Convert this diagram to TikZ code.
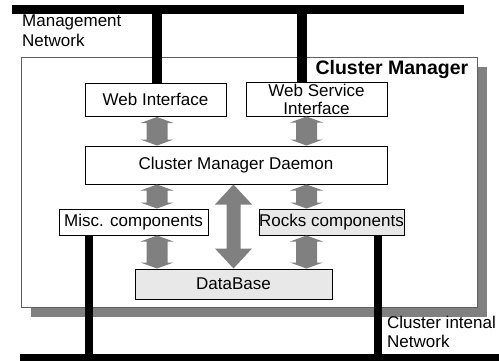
\documentclass[tikz,border=0pt]{standalone}
\usepackage{fontspec}
\setmainfont{Liberation Sans}
\usepackage{xcolor}
\usetikzlibrary{calc}
\usetikzlibrary{shadows}

\definecolor{arrowgray}{RGB}{128,128,128}
\definecolor{shadowgray}{RGB}{128,128,128}
\definecolor{boxgray}{RGB}{232,232,232}
\definecolor{framegray}{RGB}{95,95,95}

% fat grey two-headed arrow between two points
\newcommand{\dblarrow}[5]{%
\coordinate (ta) at (#1);
\coordinate (ba) at (#2);
\fill[arrowgray] (ta) -- ($(ta)+(#4,-#5)$) -- ($(ta)+(#3,-#5)$) -- ($(ba)+(#3,#5)$) -- ($(ba)+(#4,#5)$) -- (ba) -- ($(ba)+(-#4,#5)$) -- ($(ba)+(-#3,#5)$) -- ($(ta)+(-#3,-#5)$) -- ($(ta)+(-#4,-#5)$) -- cycle ;}

\tikzset{
  txt/.style={font=\fontsize{17}{18}\selectfont},
  box/.style={txt, draw, line width=1pt, fill=white, inner sep=0pt},
  greybox/.style={box, fill=boxgray},
  net/.style={line width=9pt},
  frame/.style={draw=framegray, line width=1pt, fill=white, inner sep=0pt,
    drop shadow={shadow xshift=10pt, shadow yshift=-10pt, fill=shadowgray, opacity=1}},
}

\begin{document}
\begin{tikzpicture}[x=1pt,y=1pt]
\useasboundingbox (0,0) rectangle (499,360);

%Cluster Manager frame
\node [frame, minimum width=456pt, minimum height=250pt] (cm) at (249,178) {};
\node [anchor=north east, inner sep=0pt, font=\fontsize{19.5}{20}\selectfont\bfseries] (cmlabel) at ($(cm.north east)+(-9,-4)$) {Cluster Manager};

%Boxes
\node [box, minimum width=141pt, minimum height=33.5pt] (web) at (155.5,260.25) {Web Interface};
\node [box, minimum width=141pt, minimum height=34pt, align=center] (ws) at (316.5,261) {Web Service\\Interface};
\node [box, minimum width=302pt, minimum height=38pt] (daemon) at (236,195) {Cluster Manager Daemon};
\node [box, minimum width=149pt, minimum height=26pt] (misc) at (133.5,138) {Misc. components};
\node [greybox, minimum width=145pt, minimum height=26pt] (rocks) at (331.5,138) {Rocks components};
\node [greybox, minimum width=197pt, minimum height=30pt] (db) at (233.5,76) {DataBase};

%Networks
\coordinate (mgmtL) at (12,350.5);
\coordinate (mgmtR) at (464,350.5);
\coordinate (tap1) at (157,350.5);
\coordinate (tap2) at (302,350.5);
\coordinate (intL) at (20,1.5);
\coordinate (intR) at (510,1.5);
\coordinate (drop1) at (89,1.5);
\coordinate (drop2) at (378,1.5);
\draw [net] (mgmtL) -- (mgmtR) ;
\draw [net] (intL) -- (intR) ;
\draw [line width=10pt] (tap1) -- (tap1 |- web.north) ;
\draw [line width=10pt] (tap2) -- (tap2 |- ws.north) ;
\draw [line width=8pt] (drop1 |- misc.south) -- (drop1) ;
\draw [line width=8pt] (drop2 |- rocks.south) -- (drop2) ;

% Text Node
\node [txt, anchor=north west, inner sep=0pt, align=left] (mgmt) at (22,345) {Management\\[2pt]Network};
% Text Node
\node [txt, anchor=north west, inner sep=0pt, align=left] (intnet) at (387,44) {Cluster intenal\\[1pt]Network};

%Arrows
\coordinate (a1) at (157,0);
\coordinate (a2) at (306.5,0);
\coordinate (a3) at (233.5,0);
\dblarrow{web.south -| a1}{daemon.north -| a1}{10.5}{16.5}{6}
\dblarrow{ws.south -| a2}{daemon.north -| a2}{10.5}{16.5}{6}
\dblarrow{daemon.south -| a1}{misc.north -| a1}{10.5}{16.5}{6}
\dblarrow{daemon.south -| a2}{rocks.north -| a2}{10.5}{16.5}{6}
\dblarrow{misc.south -| a1}{db.north -| a1}{10.5}{16.5}{6}
\dblarrow{rocks.south -| a2}{db.north -| a2}{10.5}{16.5}{6}
\dblarrow{daemon.south -| a3}{db.north -| a3}{7}{18.5}{20}

\end{tikzpicture}
\end{document}
